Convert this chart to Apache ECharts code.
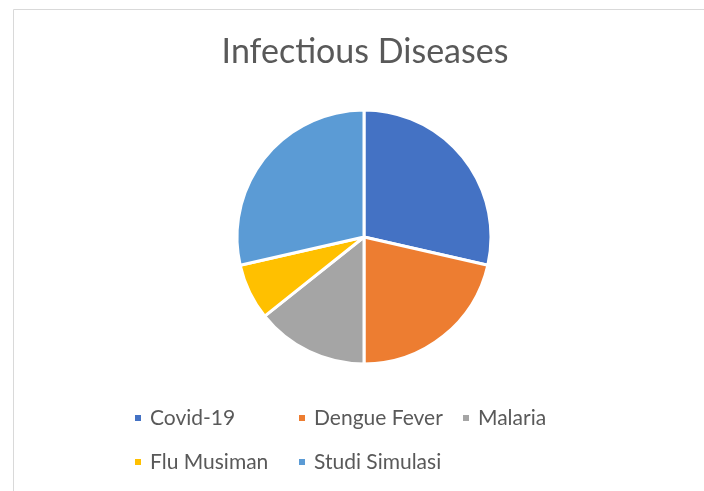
<!DOCTYPE html>
<html>
<head>
<meta charset="utf-8">
<script src="https://cdn.jsdelivr.net/npm/echarts@6/dist/echarts.min.js"></script>
<style>
  html, body { margin: 0; padding: 0; background: #fff; }
  #chart { width: 704px; height: 491px; }
</style>
</head>
<body>
<div id="chart"></div>
<script>
const titleText = 'Infectious Diseases'
const categories = ['Covid-19', 'Dengue Fever', 'Malaria', 'Flu Musiman', 'Studi Simulasi']
const values = [20, 15, 10, 5, 20]
const colors = ['#4472C4', '#ED7D31', '#A5A5A5', '#FFC000', '#5B9BD5']

const chart = echarts.init(document.getElementById('chart'))

const option = {
  animation: false,
  color: colors,
  graphic: [
    {
      type: 'rect',
      shape: { x: 13.5, y: 9.5, width: 800, height: 600 },
      style: { fill: 'none', stroke: '#d9d9d9', lineWidth: 1 },
    },
    {
      type: 'text',
      x: 365,
      y: 52,
      style: {
        text: titleText,
        fill: '#595959',
        font: '34px Lato',
        align: 'center',
        verticalAlign: 'middle',
      },
    },
  ],
  legend: {
    data: categories,
    orient: 'horizontal',
    left: 133,
    top: 396,
    width: 520,
    padding: 0,
    itemGap: 0,
    itemWidth: 8,
    itemHeight: 8,
    icon: 'rect',
    textStyle: {
      fontFamily: 'Lato',
      fontSize: 21,
      color: '#595959',
      width: 147,
      lineHeight: 44,
      padding: [0, 0, 0, 3],
    },
  },
  series: [
    {
      name: titleText,
      type: 'pie',
      center: [364, 237],
      radius: 127,
      startAngle: 90,
      clockwise: true,
      label: { show: false },
      labelLine: { show: false },
      itemStyle: { borderColor: '#fff', borderWidth: 3 },
      emphasis: { disabled: true },
      data: categories.map((name, i) => ({ name, value: values[i] })),
    },
  ],
}

chart.setOption(option)
</script>
</body>
</html>
